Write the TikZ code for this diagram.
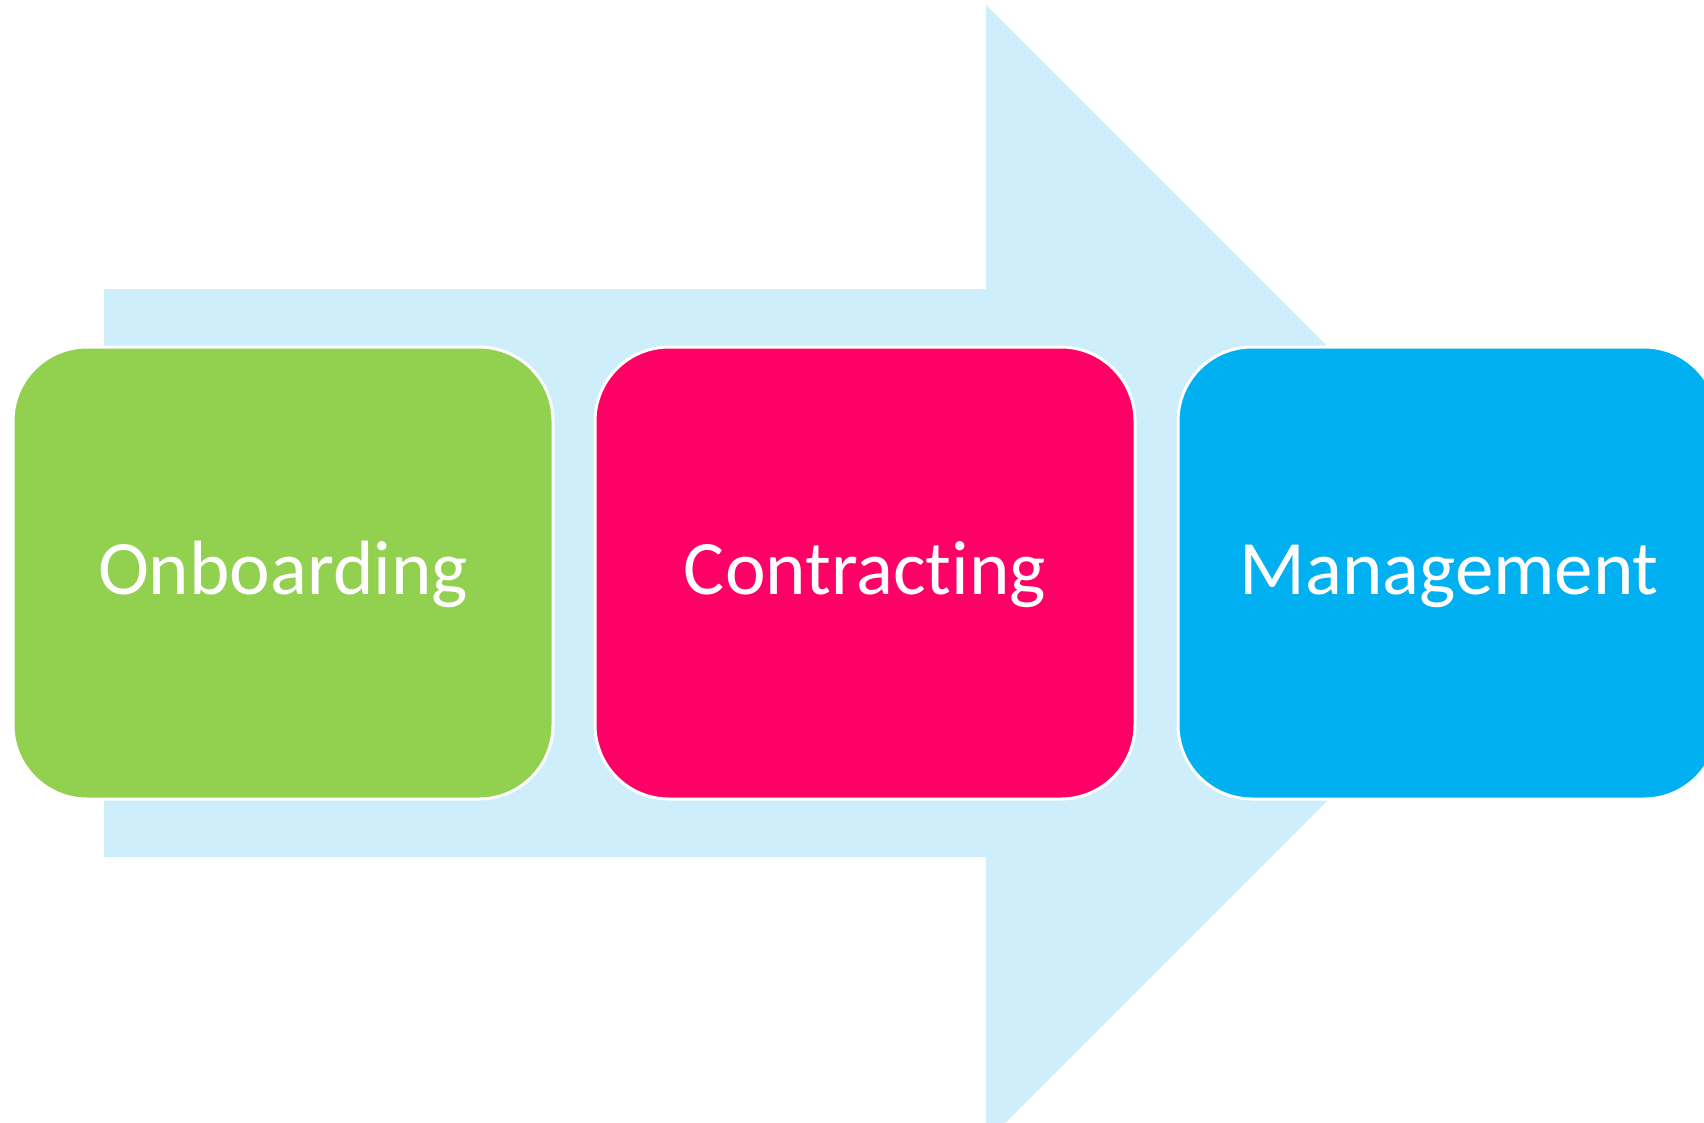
\documentclass[tikz,border=0pt]{standalone}
\usepackage{fontspec}
\setmainfont[Ligatures={NoCommon,NoRare,NoDiscretionary}]{Carlito}
\definecolor{arrowblue}{HTML}{CDEEFA}
\definecolor{boxgreen}{HTML}{92D050}
\definecolor{boxpink}{HTML}{FF0066}
\definecolor{boxblue}{HTML}{00B0F0}
\begin{document}
\begin{tikzpicture}[x=1pt,y=-1pt,
  stagebox/.style={draw=white, line width=3pt, rounded corners=74pt},
  stagelabel/.style={text=white, anchor=base, inner sep=0pt, font=\fontsize{77}{90}\selectfont}]
\useasboundingbox (0,0) rectangle (1704,1123);
\clip (0,0) rectangle (1704,1123);
\fill[arrowblue] (104,289) -- (986,289) -- (986,5) -- (1554.5,573.5) -- (986,1142) -- (986,857) -- (104,857) -- cycle;
\path[stagebox, fill=boxgreen] (13,347) rectangle (553,799);
\path[stagebox, fill=boxpink] (595,347) rectangle (1135,799);
\path[stagebox, fill=boxblue] (1178,347) rectangle (1718,799);
\node[stagelabel] (onb) at (283,594) {Onboarding};
\node[stagelabel] (con) at (865,594) {Contracting};
\node[stagelabel] (man) at (1449,594) {Management};
\end{tikzpicture}
\end{document}
